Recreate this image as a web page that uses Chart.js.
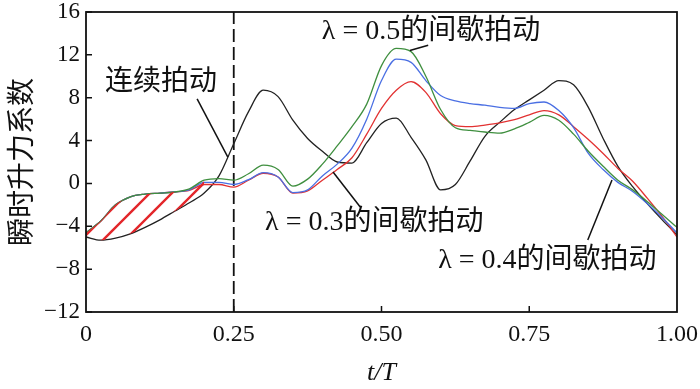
<!DOCTYPE html>
<html>
<head>
<meta charset="utf-8">
<script src="https://cdn.jsdelivr.net/npm/chart.js@4.4.1/dist/chart.umd.min.js"></script>
<style>
html,body{margin:0;padding:0;background:#fff;}
#wrap{width:700px;height:389px;}
</style>
</head>
<body>
<div id="wrap"><canvas id="c" width="700" height="389"></canvas></div>
<script>
// ---- data ----
const tValues = [0,0.025,0.05,0.075,0.1,0.125,0.15,0.175,0.2,0.225,0.25,0.275,0.3,0.325,0.35,0.375,0.4,0.425,0.45,0.475,0.5,0.525,0.55,0.575,0.6,0.625,0.65,0.675,0.7,0.725,0.75,0.775,0.8,0.825,0.85,0.875,0.9,0.925,0.95,0.975,1.0];
const continuous = [-5.0,-5.3,-5.1,-4.7,-4.1,-3.4,-2.6,-1.8,-0.9,0.7,3.7,6.7,8.7,8.1,5.9,4.2,3.0,2.0,1.9,3.8,5.6,6.1,4.3,2.2,-0.6,-0.1,2.1,4.4,5.7,6.9,7.8,8.7,9.6,9.2,7.1,4.2,1.6,-0.3,-1.9,-3.4,-4.8];
const lambda05 = [-4.6,-3.5,-2.0,-1.25,-1.0,-0.9,-0.8,-0.5,0.3,0.45,0.3,0.9,1.7,1.3,-0.25,0.4,1.8,3.5,5.3,7.4,11.0,12.6,12.3,10.0,6.9,5.2,4.95,4.8,4.7,5.1,5.7,6.35,5.9,4.6,3.0,1.6,0.3,-0.6,-1.7,-2.9,-4.1];
const lambda04 = [-4.6,-3.5,-2.0,-1.25,-1.0,-0.9,-0.8,-0.6,0.1,0.1,-0.1,0.35,1.0,0.6,-0.85,-0.6,0.7,1.8,3.3,6.0,9.6,11.6,11.3,9.6,8.2,7.7,7.45,7.3,7.1,7.0,7.45,7.6,6.8,5.2,2.8,1.3,0.1,-0.75,-1.9,-3.2,-4.6];
const lambda03 = [-4.6,-3.5,-2.0,-1.25,-1.0,-0.9,-0.8,-0.65,-0.1,-0.1,-0.35,0.3,0.95,0.6,-0.9,-0.7,0.3,1.3,2.4,4.6,7.0,8.7,9.5,8.5,6.5,5.4,5.3,5.45,5.65,5.95,6.4,6.8,6.4,5.3,4.1,2.8,1.4,0.2,-1.4,-3.1,-5.0];
const hatchEndT = 0.2;           // hatched area between curves from t=0 to this t
const switchT = 0.25;            // dashed vertical line
const xTickValues = [0,0.25,0.5,0.75,1];
const xTickLabels = ['0','0.25','0.50','0.75','1.00'];
const yTickValues = [-12,-8,-4,0,4,8,12,16];
const yTickLabels = ['\u221212','\u22128','\u22124','0','4','8','12','16'];
const xTitle = 't/T';
const yTitle = '瞬时升力系数';
const notes = [
  {text:'连续拍动', t:0.032, v:9.45, from:[0.188,7.9], to:[0.240,2.45]},
  {text:'\u03bb = 0.5的间歇拍动', t:0.399, v:14.15, from:[0.548,12.4], to:[0.579,12.9]},
  {text:'\u03bb = 0.3的间歇拍动', t:0.303, v:-3.65, from:[0.418,1.07], to:[0.464,-2.2]},
  {text:'\u03bb = 0.4的间歇拍动', t:0.596, v:-7.25, from:[0.890,0.32], to:[0.849,-5.28]}
];

// ---- build ----
const pts = arr => tValues.map((t,i)=>({x:t, y:arr[i]}));
const hatchIdx = tValues.filter(t=>t<=hatchEndT+1e-9).length;

function hatchPattern(){
  const s = 22, c = document.createElement('canvas');
  c.width = s; c.height = s;
  const g = c.getContext('2d');
  g.strokeStyle = '#e3262a'; g.lineWidth = 2.4; g.lineCap='butt';
  g.beginPath();
  g.moveTo(-2,15); g.lineTo(15,-2);
  g.moveTo(11,24); g.lineTo(24,11);
  g.stroke();
  return g.createPattern(c,'repeat');
}

const serif = '"Liberation Serif","Times New Roman","Noto Sans CJK SC",serif';
const cjk = '"Liberation Serif","Noto Sans CJK SC",serif';

const framePlugin = {
  id:'frame',
  afterDatasetsDraw(chart){
    const {ctx, chartArea:a, scales:{x,y}} = chart;
    ctx.save();
    ctx.strokeStyle = '#111'; ctx.lineWidth = 1.8;
    ctx.strokeRect(a.left, a.top, a.right-a.left, a.bottom-a.top);
    ctx.lineWidth = 1.5;
    ctx.beginPath();
    yTickValues.forEach(v=>{ const py=y.getPixelForValue(v); ctx.moveTo(a.left,py); ctx.lineTo(a.left+6,py); });
    xTickValues.forEach(v=>{ if(v<=0||v>=1) return; const px=x.getPixelForValue(v); ctx.moveTo(px,a.bottom); ctx.lineTo(px,a.bottom-6); });
    ctx.stroke();
    // annotations
    ctx.fillStyle = '#111'; ctx.strokeStyle='#111'; ctx.lineWidth=1.5;
    ctx.font = '28px ' + cjk;
    ctx.textAlign='left'; ctx.textBaseline='middle';
    notes.forEach(n=>{
      ctx.fillText(n.text, x.getPixelForValue(n.t), y.getPixelForValue(n.v));
      ctx.beginPath();
      ctx.moveTo(x.getPixelForValue(n.from[0]), y.getPixelForValue(n.from[1]));
      ctx.lineTo(x.getPixelForValue(n.to[0]), y.getPixelForValue(n.to[1]));
      ctx.stroke();
    });
    ctx.restore();
  }
};

const common = {pointRadius:0, pointHoverRadius:0, borderWidth:1.3, fill:false, cubicInterpolationMode:'monotone'};

new Chart(document.getElementById('c'), {
  type:'line',
  data:{
    datasets:[
      Object.assign({}, common, {label:'hatchTop', data:pts(lambda05).slice(0,hatchIdx), borderWidth:0, borderColor:'rgba(0,0,0,0)', fill:'+1', backgroundColor:hatchPattern()}),
      Object.assign({}, common, {label:'hatchBottom', data:pts(continuous).slice(0,hatchIdx), borderWidth:0, borderColor:'rgba(0,0,0,0)'}),
      Object.assign({}, common, {label:'λ=0.5', data:pts(lambda05), borderColor:'#3f8f3f'}),
      Object.assign({}, common, {label:'λ=0.4', data:pts(lambda04), borderColor:'#4a6fe3'}),
      Object.assign({}, common, {label:'λ=0.3', data:pts(lambda03), borderColor:'#e23232'}),
      Object.assign({}, common, {label:'连续拍动', data:pts(continuous), borderColor:'#222'}),
      {label:'switch', data:[{x:switchT,y:-12},{x:switchT,y:16}], borderColor:'#111', borderWidth:1.8, borderDash:[13,5], pointRadius:0, fill:false}
    ]
  },
  options:{
    responsive:false, animation:false, devicePixelRatio:1,
    layout:{padding:{left:0,right:23,top:12,bottom:0}},
    plugins:{legend:{display:false}, tooltip:{enabled:false}},
    scales:{
      x:{type:'linear', min:0, max:1,
        afterBuildTicks(s){ s.ticks = xTickValues.map(v=>({value:v})); },
        afterFit(s){ s.height = 77; s.paddingLeft = 0; s.paddingRight = 0; },
        grid:{display:false, drawTicks:false}, border:{display:false},
        ticks:{padding:8, color:'#111', maxRotation:0, font:{family:serif, size:24}, callback:(v)=>{const i=xTickValues.indexOf(v); return i>=0?xTickLabels[i]:'';}},
        title:{display:true, text:xTitle, color:'#111', padding:{top:0,bottom:0}, font:{family:serif, size:26, style:'italic'}}
      },
      y:{type:'linear', min:-12, max:16,
        afterBuildTicks(s){ s.ticks = yTickValues.map(v=>({value:v})); },
        afterFit(s){ s.width = 86; s.paddingTop = 0; s.paddingBottom = 0; },
        grid:{display:false, drawTicks:false}, border:{display:false},
        ticks:{padding:6, color:'#111', font:{family:serif, size:23}, callback:(v)=>{const i=yTickValues.indexOf(v); return i>=0?yTickLabels[i]:'';}},
        title:{display:true, text:yTitle, color:'#111', padding:{top:4,bottom:0}, font:{family:'"Noto Sans CJK SC",sans-serif', size:28}}
      }
    }
  },
  plugins:[framePlugin]
});
</script>
</body>
</html>
